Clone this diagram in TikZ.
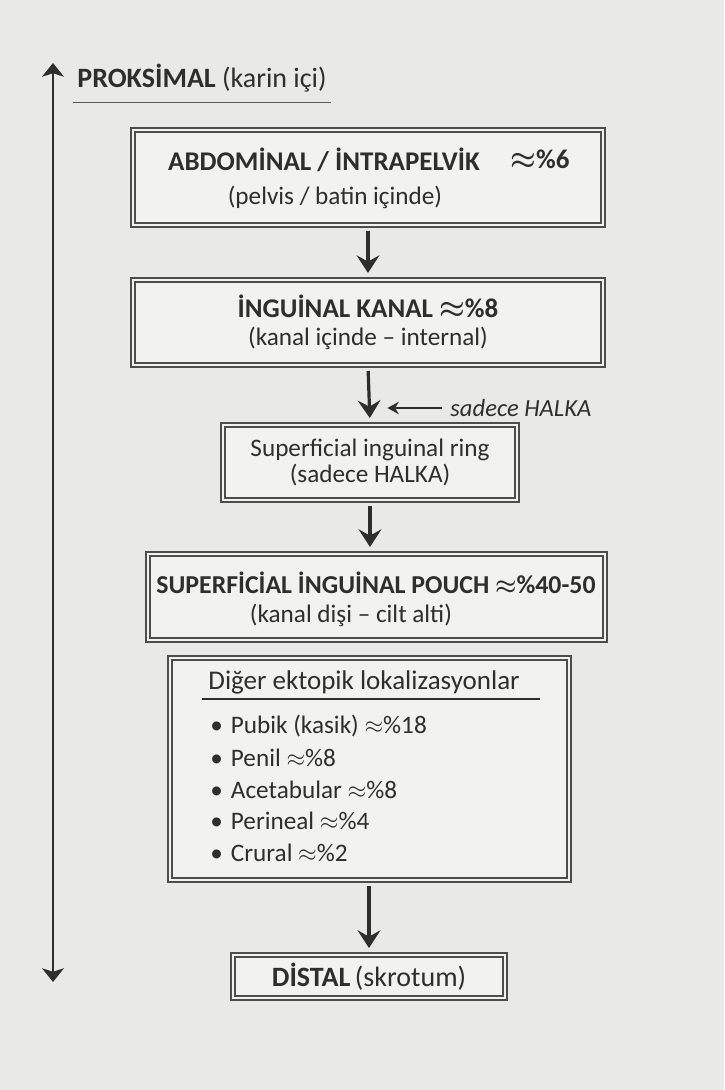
\documentclass[tikz,border=0pt]{standalone}
\usepackage{fontspec}
\setmainfont{Carlito}
\usetikzlibrary{arrows.meta,positioning}
\definecolor{paperGrey}{HTML}{E9E9E7}
\definecolor{boxFill}{HTML}{F2F2F0}
\definecolor{inkDark}{HTML}{2E2E2E}
\definecolor{ruleGrey}{HTML}{5A5A5A}

\begin{document}
\begin{tikzpicture}[x=0.5pt,y=-0.5pt,
  box/.style={rectangle,draw=inkDark!85,double=boxFill,double distance=0.6pt,line width=1pt,fill=boxFill,inner sep=0pt,align=center,text=inkDark},
  head/.style={font=\bfseries\boldmath\fontsize{13.5}{15}\selectfont,text=inkDark,inner sep=0pt},
  sub/.style={font=\fontsize{12.6}{15}\selectfont,text=inkDark,inner sep=0pt},
  item/.style={font=\fontsize{12.6}{15}\selectfont,text=inkDark,inner sep=0pt,anchor=west},
  flow/.style={-{Stealth[length=3.1mm,width=4mm,inset=1.1mm]},line width=1.6pt,color=inkDark,shorten <=2.5pt,shorten >=3pt},
  side/.style={-{Stealth[length=2mm,width=2.2mm]},line width=0.9pt,color=inkDark},
  axis/.style={{Stealth[length=2.4mm,width=3.8mm,inset=0.6mm]}-{Stealth[length=2.4mm,width=3.8mm,inset=0.6mm]},line width=1.3pt,color=inkDark}
]
\fill[paperGrey] (0,0) rectangle (724,1090);

% proximal -> distal axis
\coordinate (top) at (53,63);
\coordinate (bot) at (53,982);
\draw[axis] (bot) -- (top);
\node[anchor=west,inner sep=0pt,text=inkDark,font=\fontsize{14}{16}\selectfont] (prox) at (77,78) {\textbf{PROKSİMAL} (karin içi)};
\draw[ruleGrey,line width=0.9pt] ([xshift=-2pt,yshift=-5pt]prox.south west) -- ([xshift=2pt,yshift=-5pt]prox.south east);

% boxes
\node[box,minimum width=235pt,minimum height=47.5pt] (abd) at (368,177.5) {};
\node[head] (abdT) at (324,160) {ABDOMİNAL / İNTRAPELVİK};
\node[head] (abdP) at (540,160) {$\approx$\%6};
\node[sub] (abdS) at (335,197) {(pelvis / batin içinde)};

\node[box,minimum width=235pt,minimum height=42.5pt] (kan) at (368,322.5)
  {\textbf{\boldmath\fontsize{13.5}{15}\selectfont İNGUİNAL KANAL $\approx$\%8}\\[2pt]
   {\fontsize{12.6}{15}\selectfont (kanal içinde – internal)}};

\node[box,minimum width=147pt,minimum height=37.5pt] (ring) at (370,462.5)
  {{\fontsize{12.6}{15}\selectfont Superficial inguinal ring}\\[1pt]
   {\fontsize{12.6}{15}\selectfont (sadece HALKA)}};

\node[box,minimum width=228.5pt,minimum height=43pt] (pouch) at (376.5,597) {};
\node[head,font=\bfseries\boldmath\fontsize{12.9}{15}\selectfont] (pouchT) at (376,583) {SUPERFİCİAL İNGUİNAL POUCH $\approx$\%40-50};
\node[sub] (pouchS) at (351,615) {(kanal dişi – cilt alti)};

\node[box,minimum width=199.5pt,minimum height=111pt] (other) at (369.5,769) {};
\node[anchor=west,inner sep=0pt,text=inkDark,font=\fontsize{13.5}{15}\selectfont] (otherT) at (208,682) {Diğer ektopik lokalizasyonlar};
\draw[inkDark,line width=0.6pt] (202,699) -- (540,699);
\foreach \txt [count=\i] in {Pubik (kasik) $\approx$\%18, Penil $\approx$\%8, Acetabular $\approx$\%8, Perineal $\approx$\%4, Crural $\approx$\%2}
  \node[item] (item\i) at (210,{726+31.75*(\i-1)}) {•\hspace{4pt}\txt};

\node[box,minimum width=136pt,minimum height=21.5pt] (distal) at (369,976.5)
  {\textbf{\fontsize{14}{16}\selectfont DİSTAL} {\fontsize{14}{16}\selectfont (skrotum)}};

% arrows
\draw[flow] (abd.south) -- (kan.north);
\draw[flow] (kan.south) -- coordinate[pos=0.72] (k2) (ring.north);
\draw[flow] (ring.south) -- (ring.south |- pouch.north);
\draw[flow] (other.south -| distal.north) -- (distal.north);

\node[anchor=west,inner sep=0pt,text=inkDark,font=\itshape\fontsize{12.3}{14}\selectfont] (halka) at (450,408) {sadece HALKA};
\draw[side,shorten <=4pt,shorten >=9pt] (halka.west) -- (halka.west -| k2);
\end{tikzpicture}
\end{document}
